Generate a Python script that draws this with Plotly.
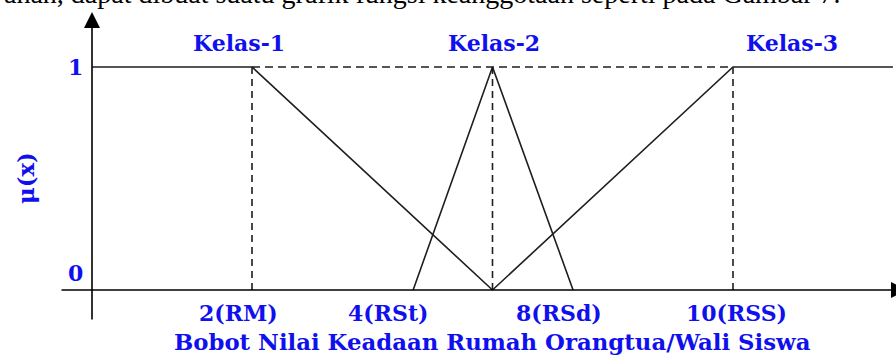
import plotly.graph_objects as go

# ---- data (membership functions) ----
kelas1_x = [-0.66, 2, 6]
kelas1_y = [1, 1, 0]
kelas2_x = [4.68, 6, 7.34]
kelas2_y = [0, 1, 0]
kelas3_x = [6, 10, 12.66]
kelas3_y = [0, 1, 1]

guide_x = [2, 6, 10]          # vertical dashed guides
class_names = ["Kelas-1", "Kelas-2", "Kelas-3"]
class_label_x = [1.78, 6.03, 10.98]
tick_labels = ["2(RM)", "4(RSt)", "8(RSd)", "10(RSS)"]
tick_label_x = [1.77, 4.27, 7.11, 10.05]
y_tick_labels = ["1", "0"]
y_tick_vals = [1, 0]

# ---- layout calibration (pixels of a 896x356 canvas) ----
W, H = 896, 356
PX_X2, PX_X10 = 252, 733
UX = (PX_X10 - PX_X2) / 8.0
X0 = 2 - PX_X2 / UX
X1 = X0 + W / UX
PY_1, PY_0 = 67, 290
UY = PY_0 - PY_1
Y1 = 1 + PY_1 / UY
Y0 = -(H - PY_0) / UY

def dx(px):
    return X0 + px / UX

def dy(py):
    return 1 + (PY_1 - py) / UY

LINE = "#1e1e1e"
BLUE = "#1010EE"
BFONT = dict(family="DejaVu Serif", size=22, color=BLUE)
TFONT = dict(family="DejaVu Serif", size=22.8, color=BLUE)

fig = go.Figure()

for xs, ys in [(kelas1_x, kelas1_y), (kelas2_x, kelas2_y), (kelas3_x, kelas3_y)]:
    fig.add_trace(go.Scatter(x=xs, y=ys, mode="lines",
                             line=dict(color=LINE, width=1.6),
                             hoverinfo="skip", showlegend=False))

# dashed guides
fig.add_trace(go.Scatter(x=[guide_x[0], guide_x[-1]], y=[1, 1], mode="lines",
                         line=dict(color=LINE, width=1.6, dash="8px,5px"),
                         hoverinfo="skip", showlegend=False))
for gx in guide_x:
    fig.add_trace(go.Scatter(x=[gx, gx], y=[0, 1], mode="lines",
                             line=dict(color=LINE, width=1.6, dash="7px,5px"),
                             hoverinfo="skip", showlegend=False))

ann = []
# axes with arrows
ann.append(dict(x=dx(92), y=dy(12), ax=dx(92), ay=dy(321), xref="x", yref="y",
                axref="x", ayref="y", text="", showarrow=True, arrowhead=2,
                arrowsize=2.0, arrowwidth=1.6, arrowcolor="#000"))
ann.append(dict(x=dx(907), y=0, ax=dx(60), ay=0, xref="x", yref="y",
                axref="x", ayref="y", text="", showarrow=True, arrowhead=2,
                arrowsize=2.0, arrowwidth=1.6, arrowcolor="#000"))

def bold(t):
    return "<b>" + t + "</b>"

for name, cx in zip(class_names, class_label_x):
    ann.append(dict(x=cx, y=dy(43), xref="x", yref="y", text=bold(name),
                    showarrow=False, font=BFONT, xanchor="center", yanchor="middle"))
for lab, cx in zip(tick_labels, tick_label_x):
    ann.append(dict(x=cx, y=dy(313), xref="x", yref="y", text=bold(lab),
                    showarrow=False, font=BFONT, xanchor="center", yanchor="middle"))
for lab, v, py in zip(y_tick_labels, y_tick_vals, [67, 273]):
    ann.append(dict(x=dx(75), y=dy(py), xref="x", yref="y", text=bold(lab),
                    showarrow=False, font=BFONT, xanchor="center", yanchor="middle"))
ann.append(dict(x=dx(492), y=dy(342), xref="x", yref="y",
                text=bold("Bobot Nilai Keadaan Rumah Orangtua/Wali Siswa"),
                showarrow=False, font=TFONT, xanchor="center", yanchor="middle"))
ann.append(dict(x=dx(26), y=dy(178), xref="x", yref="y", text=bold("μ(x)"),
                showarrow=False, font=TFONT, textangle=-90,
                xanchor="center", yanchor="middle"))
# clipped body text above the figure (cut by the top edge, as in the source)
ann.append(dict(x=843 / W, y=1 - 11 / H, xref="paper", yref="paper",
                text="ahan, dapat dibuat suatu grafik fungsi keanggotaan seperti pada Gambar 7.",
                showarrow=False, xanchor="right", yanchor="bottom",
                font=dict(family="Liberation Serif", size=28, color="#000")))

fig.update_layout(
    width=W, height=H, margin=dict(l=0, r=0, t=0, b=0),
    paper_bgcolor="white", plot_bgcolor="white",
    xaxis=dict(range=[X0, X1], visible=False, fixedrange=True),
    yaxis=dict(range=[Y0, Y1], visible=False, fixedrange=True),
    annotations=ann, showlegend=False,
)

fig.write_html("out.html", config={"displayModeBar": False},
               post_script="document.body.style.margin='0';document.body.style.overflow='hidden';")
